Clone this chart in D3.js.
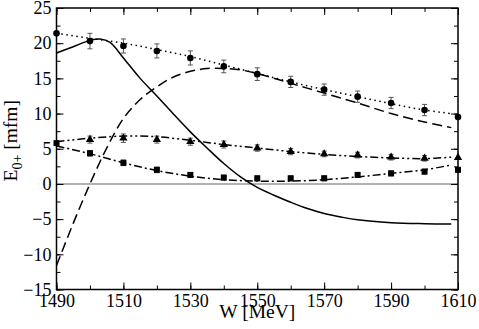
<html><head><meta http-equiv="Content-Type" content="text/html; charset=UTF-8"><title>E0+ vs W</title>
<script src="https://cdn.jsdelivr.net/npm/d3@7/dist/d3.min.js"></script>
<style>
	body	{ margin:0; background:#fff; }
	svg	{ display:block; }
	svg text	{ font-family:"Liberation Serif","Tinos","Times New Roman","DejaVu Serif",serif !important; fill:#000; }
</style>
</head><body>
<svg width="479" height="329"></svg>
<script>
// data points (W in MeV, E0+ in mfm)
var ptW=[1490,1500,1510,1520,1530,1540,1550,1560,1570,1580,1590,1600,1610];
var circ=[21.4,20.3,19.6,18.9,17.9,16.7,15.6,14.5,13.4,12.4,11.5,10.5,9.5];
var circErr=[0,1.1,1.0,1.0,1.0,0.9,0.9,0.8,0.8,0.8,0.8,0.8,0];
var triW=[1500,1510,1520,1530,1540,1550,1560,1570,1580,1590,1600,1610];
var tri=[6.3,6.5,6.3,6.0,5.6,5.1,4.6,4.26,4.1,3.8,3.65,3.75];
var triErr=[0.5,0.6,0.5,0.5,0.5,0.45,0.45,0.4,0.4,0.4,0.4,0];
var sqr=[5.8,4.36,3.0,2.0,1.28,0.9,0.8,0.8,0.8,1.28,1.5,1.75,2.0];
var sqrErr=[0,0.4,0.4,0.4,0.35,0.35,0.35,0.35,0.35,0.35,0.35,0.35,0];
// curves
var solidW=[1490,1495,1500,1503,1506,1510,1515,1520,1525,1530,1535,1540,1545,1550,1555,1560,1565,1570,1575,1580,1590,1600,1608];
var solid=[18.6,19.5,20.4,20.6,20.1,17.9,15.0,12.5,9.9,7.4,5.1,2.9,1.0,-0.5,-1.6,-2.6,-3.5,-4.2,-4.7,-5.1,-5.5,-5.65,-5.7];
var dashW=[1490,1495,1500,1505,1510,1515,1520,1525,1530,1535,1540,1545,1550,1560,1570,1580,1590,1600,1608];
var dash=[-11.6,-5.6,0,5.1,9.3,12.0,13.8,15.2,16.0,16.4,16.4,16.2,15.7,14.3,12.9,11.5,10.0,8.8,8.0];
var curveW=[1490,1500,1510,1520,1530,1540,1550,1560,1570,1580,1590,1600,1608];
var dotted=[21.4,20.7,20.0,19.1,18.1,16.9,15.7,14.5,13.4,12.4,11.4,10.5,10.0];
var dashDotDot=[6.0,6.5,6.8,6.7,6.2,5.6,5.1,4.6,4.2,3.9,3.7,3.6,3.8];
var dashDot=[5.4,4.3,3.0,1.9,1.1,0.6,0.4,0.4,0.6,1.0,1.5,2.0,2.7];
var xMajor=[1490,1510,1530,1550,1570,1590,1610];
var yMajor=[-15,-10,-5,0,5,10,15,20,25];

var svg=d3.select('svg');
var L=56.5,R=458,T=8,B=289.5;
var x=d3.scaleLinear().domain([1490,1610]).range([L,R]);
var y=d3.scaleLinear().domain([-15,25]).range([B,T]);
var xMinor=d3.range(1490,1611,10), yMinor=d3.range(-15,25.1,2.5);
var serif='"Liberation Serif","Tinos","Times New Roman","DejaVu Serif",serif';

// zero line
svg.append('line').attr('x1',L).attr('x2',R).attr('y1',y(0)).attr('y2',y(0))
	.attr('stroke','#999').attr('stroke-width',1.5);

// axes, ticks inside
function ticks(axis,vals,size,fmt){
	return axis.tickValues(vals).tickSizeInner(-size).tickSizeOuter(0).tickFormat(fmt);
}
var none=function(){return '';};
function style(g){
	g.attr('font-family',serif).attr('font-size',18);
	g.select('.domain').remove();
	g.selectAll('line').attr('stroke','#000').attr('stroke-width',1);
}
svg.append('g').attr('transform','translate(0,'+B+')').call(ticks(d3.axisBottom(x),xMinor,4,none)).call(style);
svg.append('g').attr('transform','translate(0,'+B+')').call(ticks(d3.axisBottom(x),xMajor,7,d3.format('d')).tickPadding(5)).call(style);
svg.append('g').attr('transform','translate(0,'+T+')').call(ticks(d3.axisTop(x),xMinor,4,none)).call(style);
svg.append('g').attr('transform','translate(0,'+T+')').call(ticks(d3.axisTop(x),xMajor,7,none)).call(style);
svg.append('g').attr('transform','translate('+L+',0)').call(ticks(d3.axisLeft(y),yMinor,4,none)).call(style);
svg.append('g').attr('transform','translate('+L+',0)').call(ticks(d3.axisLeft(y),yMajor,7,d3.format('d')).tickPadding(5)).call(style);
svg.append('g').attr('transform','translate('+R+',0)').call(ticks(d3.axisRight(y),yMinor,4,none)).call(style);
svg.append('g').attr('transform','translate('+R+',0)').call(ticks(d3.axisRight(y),yMajor,7,none)).call(style);

// frame
svg.append('rect').attr('x',L).attr('y',T).attr('width',R-L).attr('height',B-T)
	.attr('fill','none').attr('stroke','#000').attr('stroke-width',1.5);

// curves
var plot=svg.append('g');
function curve(ws,vs,dasharray){
	var line=d3.line().x(function(d){return x(d[0]);}).y(function(d){return y(d[1]);}).curve(d3.curveCatmullRom);
	plot.append('path').datum(d3.zip(ws,vs)).attr('d',line)
		.attr('fill','none').attr('stroke','#000').attr('stroke-width',1.5)
		.attr('stroke-dasharray',dasharray);
}
curve(solidW,solid,null);
curve(dashW,dash,'10,5');
curve(curveW,dotted,'1.5,3.5');
curve(curveW,dashDotDot,'8,3,2,3,2,3');
curve(curveW,dashDot,'8,3,2,3');

// error bars
function errs(ws,vs,es){
	ws.forEach(function(w,i){
		if(!es[i])return;
		var g=plot.append('g').attr('stroke','#555').attr('stroke-width',1);
		g.append('line').attr('x1',x(w)).attr('x2',x(w)).attr('y1',y(vs[i]-es[i])).attr('y2',y(vs[i]+es[i]));
		g.append('line').attr('x1',x(w)-2.5).attr('x2',x(w)+2.5).attr('y1',y(vs[i]-es[i])).attr('y2',y(vs[i]-es[i]));
		g.append('line').attr('x1',x(w)-2.5).attr('x2',x(w)+2.5).attr('y1',y(vs[i]+es[i])).attr('y2',y(vs[i]+es[i]));
	});
}
errs(ptW,circ,circErr);
errs(triW,tri,triErr);
errs(ptW,sqr,sqrErr);

// markers
ptW.forEach(function(w,i){
	plot.append('circle').attr('cx',x(w)).attr('cy',y(circ[i])).attr('r',3.3).attr('fill','#000');
	plot.append('rect').attr('x',x(w)-3).attr('y',y(sqr[i])-3).attr('width',6).attr('height',6).attr('fill','#000');
});
triW.forEach(function(w,i){
	plot.append('path').attr('d',d3.symbol(d3.symbolTriangle,30)())
		.attr('transform','translate('+x(w)+','+y(tri[i])+')').attr('fill','#000');
});

// axis titles
svg.append('text').attr('x',(L+R)/2).attr('y',318).attr('text-anchor','middle')
	.attr('font-family',serif).attr('font-size',19.5).text('W [MeV]');
var yl=svg.append('text').attr('transform','translate(17,'+((T+B)/2-8)+') rotate(-90)')
	.attr('text-anchor','middle').attr('font-family',serif).attr('font-size',19.5);
yl.append('tspan').text('E');
yl.append('tspan').attr('font-size',14).attr('dy',5).text('0+');
yl.append('tspan').attr('dy',-5).text(' [mfm]');
</script>
</body></html>
